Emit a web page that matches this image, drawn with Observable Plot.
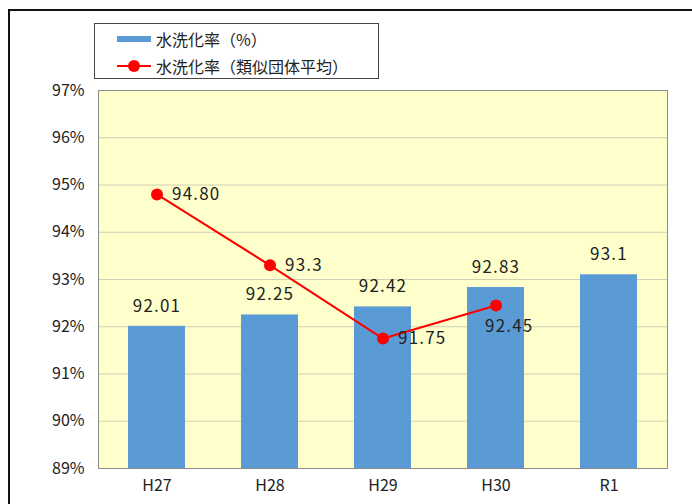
<!DOCTYPE html>
<html lang="ja">
<head>
<meta charset="utf-8">
<script src="https://cdn.jsdelivr.net/npm/d3@7"></script>
<script src="https://cdn.jsdelivr.net/npm/@observablehq/plot@0.6"></script>
<style>
  html, body { margin: 0; padding: 0; background: #fff; overflow: hidden; }
  #wrap { position: relative; width: 692px; height: 504px; overflow: hidden; }
  #border { position: absolute; left: 8px; top: 9px; width: 720px; height: 540px;
            border-left: 2px solid #111; border-top: 2px solid #111; box-sizing: border-box; }
  #chart { position: absolute; left: 0; top: 0; }
  #chart g[aria-label="text"] text { letter-spacing: 1.2px; }
  #legend { position: absolute; left: 94px; top: 23px; width: 285px; height: 56px; box-sizing: border-box;
            border: 1px solid #444; background: #fff; font-family: "Noto Sans CJK JP", sans-serif;
            font-size: 16px; color: #222; }
  .row { position: absolute; left: 22px; height: 20px; display: flex; align-items: center; }
  .row svg { display: block; margin-right: 5px; }
</style>
</head>
<body>
<div id="wrap">
  <div id="border"></div>
  <div id="chart"></div>
  <div id="legend"></div>
</div>
<script>
// 年度
const categories = ["H27", "H28", "H29", "H30", "R1"];
// 水洗化率（%）
const rates = ["92.01", "92.25", "92.42", "92.83", "93.1"];
// 水洗化率（類似団体平均）— R1 は未公表
const peerYears = ["H27", "H28", "H29", "H30"];
const peerRates = ["94.80", "93.3", "91.75", "92.45"];
// 縦軸の目盛
const yTicks = [89, 90, 91, 92, 93, 94, 95, 96, 97];
const gridTicks = [90, 91, 92, 93, 94, 95, 96];

const seriesNames = ["水洗化率（%）", "水洗化率（類似団体平均）"];
const barColor = "#5b9bd5";
const lineColor = "#ff0000";

const bars = categories.map((c, i) => ({year: c, rate: +rates[i], label: rates[i]}));
const peer = peerYears.map((c, i) => ({year: c, rate: +peerRates[i], label: peerRates[i]}));

const font = "'Noto Sans CJK JP', sans-serif";

const chart = Plot.plot({
  width: 692,
  height: 504,
  marginLeft: 98,
  marginRight: 25,
  marginTop: 90,
  marginBottom: 36,
  style: {fontFamily: font, fontSize: "16px", color: "#222", background: "transparent"},
  x: {domain: categories, paddingInner: 0.5, paddingOuter: 0.25, label: null, tickSize: 0, tickPadding: 11},
  y: {domain: [89, 97], ticks: yTicks, tickFormat: d => d + "%", tickSize: 0, tickPadding: 14, label: null},
  marks: [
    Plot.frame({fill: "#ffffcc"}),
    Plot.gridY(gridTicks, {stroke: "#cfcfb6", strokeOpacity: 1}),
    Plot.barY(bars, {x: "year", y1: 89, y2: "rate", fill: barColor}),
    Plot.text(bars, {x: "year", y: "rate", text: "label", dy: -20, fontSize: 17, fill: "#222"}),
    Plot.line(peer, {x: "year", y: "rate", stroke: lineColor, strokeWidth: 2}),
    Plot.dot(peer, {x: "year", y: "rate", r: 6, fill: lineColor}),
    Plot.text(peer.slice(0, 3), {x: "year", y: "rate", text: "label", textAnchor: "start", dx: 15, fontSize: 17, fill: "#222"}),
    Plot.text(peer.slice(3), {x: "year", y: "rate", text: "label", textAnchor: "start", dx: -11, dy: 21, fontSize: 17, fill: "#222"}),
    Plot.frame({stroke: "#8c8c8c"})
  ]
});
document.getElementById("chart").appendChild(chart);

// 凡例
const legend = document.getElementById("legend");
seriesNames.forEach((name, i) => {
  const row = document.createElement("div");
  row.className = "row";
  row.style.top = (i === 0 ? 5 : 32) + "px";
  const sw = i === 0
    ? `<svg width="34" height="20"><rect x="0" y="7" width="34" height="6" fill="${barColor}"/></svg>`
    : `<svg width="34" height="20"><line x1="0" y1="10" x2="34" y2="10" stroke="${lineColor}" stroke-width="2"/><circle cx="17" cy="10" r="6" fill="${lineColor}"/></svg>`;
  row.innerHTML = sw + `<span>${name}</span>`;
  legend.appendChild(row);
});
</script>
</body>
</html>
